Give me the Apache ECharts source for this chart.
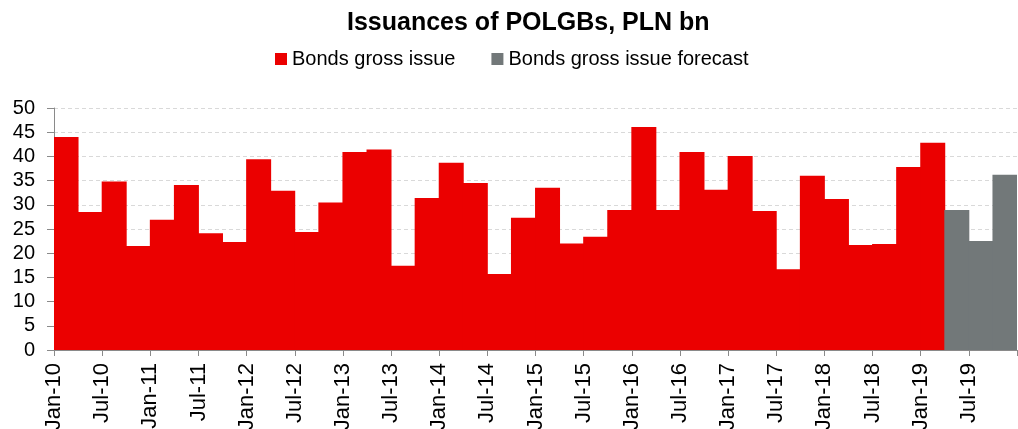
<!DOCTYPE html>
<html>
<head>
<meta charset="utf-8">
<script src="https://cdn.jsdelivr.net/npm/echarts@6/dist/echarts.min.js"></script>
<style>
  html, body { margin: 0; padding: 0; background: #fff; }
  #chart { width: 1018px; height: 429px; }
</style>
</head>
<body>
<div id="chart"></div>
<script>
// Quarterly gross issuance of Polish government bonds, PLN bn
const years = [2010, 2011, 2012, 2013, 2014, 2015, 2016, 2017, 2018, 2019];
const quarterNames = ['Q1', 'Q2', 'Q3', 'Q4'];

// Q1 2010 .. Q1 2019
const issued = [
  44.0, 28.5, 34.8, 21.5,
  26.9, 34.1, 24.1, 22.3,
  39.4, 32.9, 24.4, 30.5,
  40.9, 41.4, 17.4, 31.4,
  38.7, 34.5, 15.7, 27.3,
  33.5, 22.0, 23.4, 28.9,
  46.1, 28.9, 40.9, 33.1,
  40.1, 28.7, 16.7, 36.0,
  31.2, 21.7, 21.9, 37.8,
  42.8
];

// Q2 2019 .. Q4 2019
const forecast = [28.9, 22.5, 36.2];

// Half-year tick labels on the quarter boundaries
const tickLabels = [
  'Jan-10', 'Jul-10', 'Jan-11', 'Jul-11', 'Jan-12', 'Jul-12', 'Jan-13', 'Jul-13',
  'Jan-14', 'Jul-14', 'Jan-15', 'Jul-15', 'Jan-16', 'Jul-16', 'Jan-17', 'Jul-17',
  'Jan-18', 'Jul-18', 'Jan-19', 'Jul-19'
];

const categories = [];
years.forEach(y => quarterNames.forEach(q => categories.push(q + ' ' + y)));

const issuedData = categories.map((_, i) => i < issued.length ? issued[i] : null);
const forecastData = categories.map((_, i) => {
  const k = i - issued.length;
  return k >= 0 && k < forecast.length ? forecast[k] : null;
});

const FONT = '"Liberation Sans", Arial, sans-serif';
const AXIS_COLOR = '#8a8a8a';
const RED = '#eb0000';
const GREY = '#727879';

const chart = echarts.init(document.getElementById('chart'));
chart.setOption({
  animation: false,
  textStyle: { fontFamily: FONT },
  title: {
    text: 'Issuances of POLGBs, PLN bn',
    left: 347,
    top: 11,
    padding: 0,
    textStyle: { fontFamily: FONT, fontSize: 25, fontWeight: 'bold', color: '#000' }
  },
  legend: {
    left: 275,
    top: 49,
    padding: 0,
    icon: 'rect',
    itemWidth: 12,
    itemHeight: 12,
    itemGap: 36,
    textStyle: { fontFamily: FONT, fontSize: 20, color: '#000' },
    data: ['Bonds gross issue', 'Bonds gross issue forecast']
  },
  grid: {
    left: 54, right: 1, top: 108, bottom: 79,
    containLabel: false,
    outerBoundsMode: 'none'
  },
  xAxis: [
    {
      type: 'category',
      data: categories,
      boundaryGap: true,
      axisLine: { show: true, lineStyle: { color: AXIS_COLOR, width: 1 } },
      axisTick: { show: false },
      axisLabel: { show: false }
    },
    {
      type: 'value',
      min: 0,
      max: 40,
      interval: 2,
      position: 'bottom',
      axisLine: { show: false },
      splitLine: { show: false },
      axisTick: { show: true, length: 6, lineStyle: { color: AXIS_COLOR } },
      axisLabel: {
        rotate: 90,
        margin: 13,
        fontSize: 22,
        color: '#000',
        fontFamily: FONT,
        showMinLabel: true,
        showMaxLabel: true,
        formatter: v => tickLabels[v / 2] || ''
      }
    }
  ],
  yAxis: {
    type: 'value',
    min: 0,
    max: 50,
    interval: 5,
    axisLine: { show: true, lineStyle: { color: AXIS_COLOR, width: 1 } },
    axisTick: { show: true, length: 7, lineStyle: { color: AXIS_COLOR } },
    axisLabel: { fontSize: 20, color: '#000', margin: 19, fontFamily: FONT },
    splitLine: { show: true, lineStyle: { color: '#d9d9d9', type: [4, 3], width: 1 } }
  },
  series: [
    {
      name: 'Bonds gross issue',
      type: 'bar',
      xAxisIndex: 0,
      data: issuedData,
      barWidth: 25,
      barGap: '-100%',
      itemStyle: { color: RED }
    },
    {
      name: 'Bonds gross issue forecast',
      type: 'bar',
      xAxisIndex: 0,
      data: forecastData,
      barWidth: 25,
      barGap: '-100%',
      itemStyle: { color: GREY }
    }
  ]
});
</script>
</body>
</html>
